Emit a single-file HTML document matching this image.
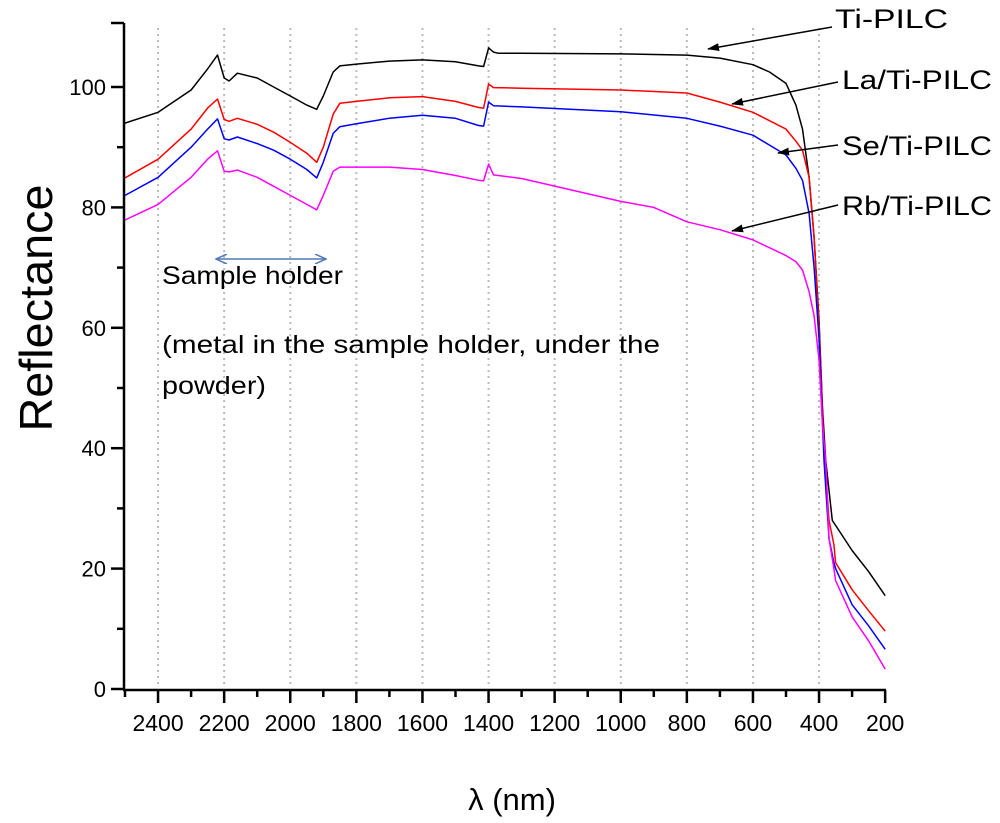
<!DOCTYPE html>
<html><head><meta charset="utf-8"><style>
html,body{margin:0;padding:0;background:#fff;}
svg{display:block;font-family:"Liberation Sans",sans-serif;}
</style></head><body>
<svg id="s" width="1000" height="823" viewBox="0 0 1000 823" xmlns="http://www.w3.org/2000/svg">
<defs>
<marker id="ah" markerWidth="12" markerHeight="8" refX="11" refY="4" orient="auto" markerUnits="userSpaceOnUse"><path d="M0,0 L12,4 L0,8 Z" fill="#000"/></marker>
<marker id="bh" markerWidth="12" markerHeight="10" refX="11" refY="5" orient="auto-start-reverse" markerUnits="userSpaceOnUse"><path d="M0,0 L11,5 L0,10" fill="none" stroke="#4f7ab5" stroke-width="1.5"/></marker>
</defs>
<g id="grid" stroke="#bbb" stroke-width="2" stroke-dasharray="2,4"></g>
<g id="curves" fill="none" stroke-width="1.5"></g>
<g id="axes" stroke="#000" stroke-width="2.5" fill="none"></g>
<g id="labels" font-size="22" fill="#000"></g>
<text x="52" y="308" font-size="46" text-anchor="middle" transform="rotate(-90 52 308)" textLength="247" lengthAdjust="spacingAndGlyphs">Reflectance</text>
<text x="512" y="810" font-size="31" text-anchor="middle">λ (nm)</text>
<g font-size="27">
<text x="835" y="28" textLength="113" lengthAdjust="spacingAndGlyphs">Ti-PILC</text>
<text x="842" y="89" textLength="150" lengthAdjust="spacingAndGlyphs">La/Ti-PILC</text>
<text x="842" y="155" textLength="150" lengthAdjust="spacingAndGlyphs">Se/Ti-PILC</text>
<text x="842" y="215" textLength="150" lengthAdjust="spacingAndGlyphs">Rb/Ti-PILC</text>
</g>
<g stroke="#000" stroke-width="1.5">
<line x1="832" y1="27" x2="708" y2="49" marker-end="url(#ah)"/>
<line x1="838" y1="82" x2="732" y2="104" marker-end="url(#ah)"/>
<line x1="838" y1="145" x2="778" y2="153" marker-end="url(#ah)"/>
<line x1="838" y1="205" x2="732" y2="231" marker-end="url(#ah)"/>
</g>
<line x1="216" y1="259" x2="326" y2="259" stroke="#4f7ab5" stroke-width="1.5" marker-start="url(#bh)" marker-end="url(#bh)"/>
<g font-size="25">
<text x="162" y="284" textLength="181" lengthAdjust="spacingAndGlyphs">Sample holder</text>
<text x="162" y="353" textLength="498" lengthAdjust="spacingAndGlyphs">(metal in the sample holder, under the</text>
<text x="162" y="394" textLength="104" lengthAdjust="spacingAndGlyphs">powder)</text>
</g>
</svg>
<script>
var NS="http://www.w3.org/2000/svg";
function X(l){return 125+(2500-l)*0.3305;}
function Y(r){return 689-r*6.02;}
function el(p,t,a,txt){var e=document.createElementNS(NS,t);for(var k in a)e.setAttribute(k,a[k]);if(txt!=null)e.textContent=txt;p.appendChild(e);return e;}
var g=document.getElementById('grid');
for(var l=2400;l>=400;l-=200){var x=X(l);el(g,'line',{x1:x,y1:28,x2:x,y2:688});}
var ax=document.getElementById('axes'),lb=document.getElementById('labels');
el(ax,'line',{x1:124,y1:23,x2:124,y2:690});
el(ax,'line',{x1:123,y1:690,x2:886,y2:690});
for(var r=0;r<=100;r+=10){var y=Y(r);var maj=r%20==0;el(ax,'line',{x1:maj?111:117,y1:y,x2:124,y2:y});if(maj)el(lb,'text',{x:106,y:y+8,'text-anchor':'end'},r);}
el(ax,'line',{x1:111,y1:23,x2:124,y2:23});
for(var l=2500;l>=200;l-=100){var x=X(l);var maj=l%200==0;el(ax,'line',{x1:x,y1:690,x2:x,y2:maj?703:697});if(maj)el(lb,'text',{x:x,y:731,'text-anchor':'middle','font-size':23},l);}
var S=[
['#000',[[2500,94],[2400,95.8],[2300,99.5],[2250,103],[2220,105.3],[2200,101.5],[2185,101],[2160,102.3],[2100,101.5],[2050,100],[2000,98.5],[1950,97],[1920,96.3],[1900,98.5],[1870,102.5],[1850,103.5],[1800,103.8],[1700,104.3],[1600,104.5],[1500,104.2],[1430,103.5],[1415,103.4],[1400,106.5],[1385,105.8],[1370,105.6],[1300,105.6],[1000,105.5],[800,105.3],[700,104.8],[600,103.7],[550,102.5],[500,100.6],[470,97],[450,93],[430,85],[415,75],[400,61],[390,47],[380,38],[360,28],[300,23],[250,19.5],[200,15.5]]],
['#f00',[[2500,84.9],[2400,88],[2300,93],[2250,96.5],[2220,98],[2200,94.6],[2185,94.3],[2160,94.8],[2100,93.8],[2050,92.5],[2000,90.8],[1950,89],[1920,87.5],[1900,90],[1870,95.5],[1850,97.3],[1800,97.6],[1700,98.2],[1600,98.4],[1500,97.6],[1430,96.6],[1415,96.5],[1400,100.5],[1385,99.9],[1300,99.8],[1000,99.5],[800,99],[700,97.5],[600,95.8],[500,93],[470,91],[450,89.5],[430,85],[415,75],[400,60],[385,40],[370,28],[355,24],[350,21],[300,16.5],[250,13],[200,9.6]]],
['#00f',[[2500,82],[2400,85],[2300,90],[2250,93],[2220,94.7],[2200,91.4],[2185,91.2],[2160,91.7],[2100,90.6],[2050,89.5],[2000,88],[1950,86.3],[1920,84.9],[1900,87.5],[1870,92.3],[1850,93.4],[1800,93.9],[1700,94.8],[1600,95.3],[1500,94.8],[1430,93.6],[1415,93.5],[1400,97.5],[1385,96.9],[1300,96.7],[1000,95.9],[800,94.8],[700,93.5],[600,92],[500,88.7],[470,86.5],[450,84.5],[430,79],[415,70],[400,58],[385,38],[370,25],[355,21],[350,20],[300,14],[250,10.5],[200,6.6]]],
['#f0f',[[2500,77.9],[2400,80.5],[2300,85],[2250,88],[2220,89.4],[2200,86],[2185,85.9],[2160,86.2],[2100,85],[2050,83.5],[2000,82],[1950,80.5],[1920,79.6],[1900,82],[1870,86],[1850,86.7],[1700,86.7],[1600,86.3],[1500,85.3],[1430,84.5],[1415,84.4],[1400,87.2],[1385,85.4],[1300,84.8],[1000,81],[900,80],[800,77.6],[700,76.3],[600,74.6],[500,72],[470,71],[450,69.6],[430,66],[415,62],[400,54.6],[390,44],[380,38],[370,25],[355,20],[350,18],[300,12],[250,8],[200,3.3]]]
];
var cg=document.getElementById('curves');
S.forEach(function(s){var p=s[1].map(function(q){return X(q[0]).toFixed(1)+','+Y(q[1]).toFixed(1);}).join(' ');el(cg,'polyline',{points:p,stroke:s[0],'stroke-linejoin':'round'});});
</script>
</body></html>
